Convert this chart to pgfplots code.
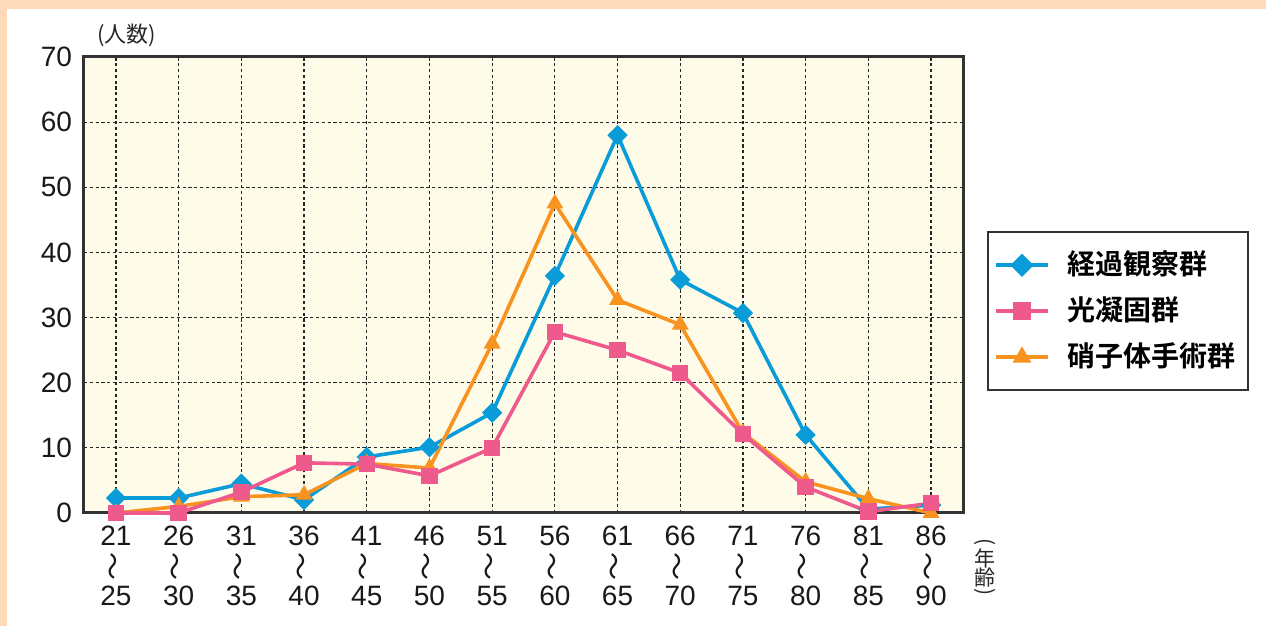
\documentclass[border=0pt]{standalone}
\usepackage{fontspec}
\setmainfont{Liberation Sans}
\newfontfamily\cjk{Noto Sans CJK JP}
\newfontfamily\cjkb{Noto Sans CJK JP Bold}
\usepackage{graphicx}
\usepackage{pgfplots}
\pgfplotsset{compat=1.18}
\definecolor{cblue}{HTML}{0A9CD8}
\definecolor{cpink}{HTML}{EE5A8C}
\definecolor{corange}{HTML}{F7931E}
\definecolor{bgy}{HTML}{FFFBE9}
\definecolor{peach}{HTML}{FDDAB9}
\definecolor{frame}{HTML}{333333}
\newcommand\wv{\smash{\raisebox{-2.5pt}{\rotatebox{90}{\fontsize{14}{14}\selectfont\cjk 〜}}}}
\pgfplotstableread{
x blue pink orange
0 2.3 0 0
1 2.3 0 1.0
2 4.5 3.2 2.5
3 2.0 7.7 2.8
4 8.6 7.5 7.6
5 10.1 5.7 6.9
6 15.4 10.0 26.0
7 36.4 27.8 47.5
8 58.0 25.0 32.7
9 35.8 21.5 28.9
10 30.7 12.1 12.3
11 12.0 4.0 4.8
12 0.6 0.2 2.2
13 1.2 1.5 0
}\datatable
\begin{document}
\begin{tikzpicture}
\fill[peach] (-42pt,-56.5pt) rectangle (591pt,256.5pt);
\fill[white] (-38.5pt,-56.5pt) rectangle (591pt,252pt);
\begin{axis}[
  scale only axis, width=439.5pt, height=228pt,
  xmin=-0.51, xmax=13.51, ymin=0, ymax=70,
  axis background/.style={fill=bgy},
  axis line style={frame, line width=1.5pt},
  xtick={0,...,13}, ytick={0,10,...,70},
  xticklabels={21\\\wv\\25,26\\\wv\\30,31\\\wv\\35,36\\\wv\\40,41\\\wv\\45,46\\\wv\\50,51\\\wv\\55,56\\\wv\\60,61\\\wv\\65,66\\\wv\\70,71\\\wv\\75,76\\\wv\\80,81\\\wv\\85,86\\\wv\\90},
  major tick length=0pt,
  grid=major,
  major grid style={black!85, line width=0.6pt, dash pattern=on 1.6pt off 1.3pt},
  tick label style={font=\fontsize{14}{15}\selectfont, text=black!90},
  /pgf/number format/assume math mode=true,
  yticklabel style={xshift=-2.5pt},
  xticklabel style={align=center, yshift=-3pt},
  legend style={at={(1.0273,0.6184)}, anchor=north west, draw=frame, line width=1.2pt,
    fill=white, inner xsep=3pt, inner ysep=8.5pt, row sep=7pt,
    font=\cjkb\fontsize{14}{14}\selectfont,
    nodes={inner xsep=3pt, inner ysep=1.5pt, text height=11pt, text depth=2pt},
    /tikz/every odd column/.append style={column sep=6pt}},
  legend cell align=left,
  legend image code/.code={\draw[mark repeat=2,mark phase=2,#1] plot coordinates {(0pt,0pt) (13pt,0pt) (26pt,0pt)};},
  clip=false,
]
\addlegendimage{cblue, line width=1.8pt, mark=square*, mark size=3.2pt, mark options={rotate=45, solid}}
\addlegendimage{cpink, line width=1.8pt, mark=square*, mark size=3.6pt, mark options={solid}}
\addlegendimage{corange, line width=1.8pt, mark=triangle*, mark size=3.6pt, mark options={solid}}
\legend{経過観察群,光凝固群,硝子体手術群}
\addplot[forget plot, cblue, line width=1.8pt, mark=square*, mark size=2.7pt, mark options={rotate=45}] table[x=x, y=blue] {\datatable};
\addplot[forget plot, corange, line width=1.8pt, mark=triangle*, mark size=3.1pt] table[x=x, y=orange] {\datatable};
\addplot[forget plot, cpink, line width=1.8pt, mark=square*, mark size=3.2pt] table[x=x, y=pink] {\datatable};
\end{axis}
\node[font=\cjk\fontsize{11}{11}\selectfont, text=black!85] at (21.5pt,239pt) {(人数)};
\begin{scope}[every node/.style={font=\cjk\fontsize{10.5}{10.5}\selectfont, text=black!85, inner sep=0pt}]
\node[rotate=-90] at (450.5pt,-14.5pt) {(};
\node at (450.5pt,-22.5pt) {年};
\node at (450.5pt,-32.5pt) {齢};
\node[rotate=-90] at (450.5pt,-39.5pt) {)};
\end{scope}
\end{tikzpicture}
\end{document}
